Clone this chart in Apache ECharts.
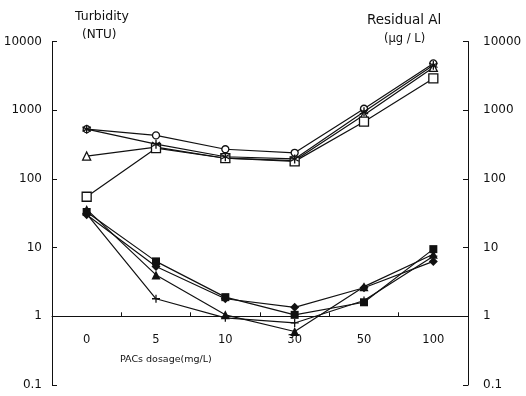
<!DOCTYPE html>
<html>
<head>
<meta charset="utf-8">
<script src="https://cdn.jsdelivr.net/npm/echarts@6/dist/echarts.min.js"></script>
<style>
  html, body { margin: 0; padding: 0; background: #fff; }
  #chart { width: 526px; height: 396px; }
</style>
</head>
<body>
<div id="chart"></div>
<script>
// PACs dosage (mg/L)
const dosages = ['0', '5', '10', '30', '50', '100'];

// Residual Al (µg/L), right axis
const alCircle   = [530, 430, 270, 240, 1050, 4800];
const alStar     = [530, 320, 210, 195, 950, 4500];
const alTriangle = [215, 290, 200, 185, 850, 4200];
const alSquare   = [55, 280, 200, 180, 680, 2900];

// Turbidity (NTU), left axis
const tuSquare   = [33, 6.3, 1.9, 1.05, 1.6, 9.5];
const tuDiamond  = [30, 5.3, 1.8, 1.35, 2.6, 6.3];
const tuTriangle = [36, 4.0, 1.05, 0.6, 2.7, 8.0];
const tuPlus     = [31, 1.8, 0.95, 0.8, 1.7, 7.5];

const logTicks = ['0.1', '1', '10', '100', '1000', '10000'];

const FONT = 'DejaVu Sans';
const INK = '#111';

const starPath = 'path://M4.3,0L5.7,0L5.7,10L4.3,10Z' +
  'M0.32,3.106L1.02,1.894L9.68,6.894L8.98,8.106Z' +
  'M8.98,1.894L9.68,3.106L1.02,8.106L0.32,6.894Z';
const plusPath = 'path://M4.2,0L5.8,0L5.8,4.2L10,4.2L10,5.8L5.8,5.8L5.8,10L4.2,10L4.2,5.8L0,5.8L0,4.2L4.2,4.2Z';

function lineSeries(name, data, axis, symbol, filled, size) {
  return {
    name: name,
    type: 'line',
    yAxisIndex: axis,
    data: data,
    symbol: symbol,
    symbolSize: size,
    showAllSymbol: true,
    lineStyle: { color: INK, width: 1.2 },
    itemStyle: {
      color: filled ? INK : '#fff',
      borderColor: INK,
      borderWidth: filled ? 0 : 1.3
    },
    emphasis: { disabled: true },
    z: filled ? 3 : 2
  };
}

function logAxis(position, margin) {
  return {
    type: 'log',
    logBase: 10,
    min: 0.1,
    max: 10000,
    position: position,
    axisLine: { show: true, lineStyle: { color: INK, width: 1 } },
    axisTick: { show: true, inside: true, length: 5, lineStyle: { color: INK } },
    minorTick: { show: false },
    splitLine: { show: false },
    axisLabel: {
      color: INK,
      fontFamily: FONT,
      fontSize: 12,
      margin: margin,
      formatter: function (v) {
        const k = Math.round(Math.log10(v)) + 1;
        return logTicks[k] !== undefined ? logTicks[k] : '';
      }
    }
  };
}

const chart = echarts.init(document.getElementById('chart'), null, { renderer: 'canvas' });

chart.setOption({
  animation: false,
  backgroundColor: '#fff',
  grid: { left: 52, right: 58, top: 41.5, bottom: 11 },
  xAxis: {
    type: 'category',
    data: dosages,
    boundaryGap: true,
    position: 'bottom',
    offset: -68.7,
    axisLine: { onZero: false, lineStyle: { color: INK, width: 1 } },
    axisTick: { show: true, inside: true, length: 4, lineStyle: { color: INK } },
    axisLabel: { color: INK, fontFamily: FONT, fontSize: 11.5, margin: 18 }
  },
  yAxis: [logAxis('left', 10), logAxis('right', 15)],
  series: [
    lineSeries('Al ○', alCircle, 1, 'circle', false, 7),
    lineSeries('Al ✱', alStar, 1, starPath, true, 9),
    lineSeries('Al △', alTriangle, 1, 'triangle', false, 8),
    lineSeries('Al □', alSquare, 1, 'rect', false, 9),
    lineSeries('Turbidity ■', tuSquare, 0, 'rect', true, 8),
    lineSeries('Turbidity ◆', tuDiamond, 0, 'diamond', true, 9),
    lineSeries('Turbidity ▲', tuTriangle, 0, 'triangle', true, 9),
    lineSeries('Turbidity +', tuPlus, 0, plusPath, true, 8)
  ],
  graphic: [
    { type: 'text', left: 75, top: 10, style: { text: 'Turbidity', font: '12.5px "DejaVu Sans"', fill: INK } },
    { type: 'text', left: 82, top: 29, style: { text: '(NTU)', font: '12px "DejaVu Sans"', fill: INK } },
    { type: 'text', left: 367, top: 13, style: { text: 'Residual Al', font: '13.5px "DejaVu Sans"', fill: INK } },
    { type: 'text', left: 384, top: 33, style: { text: '(μg / L)', font: '11.5px "DejaVu Sans"', fill: INK } },
    { type: 'text', left: 120, top: 355, style: { text: 'PACs dosage(mg/L)', font: '9.5px "DejaVu Sans"', fill: INK } }
  ]
});
</script>
</body>
</html>
